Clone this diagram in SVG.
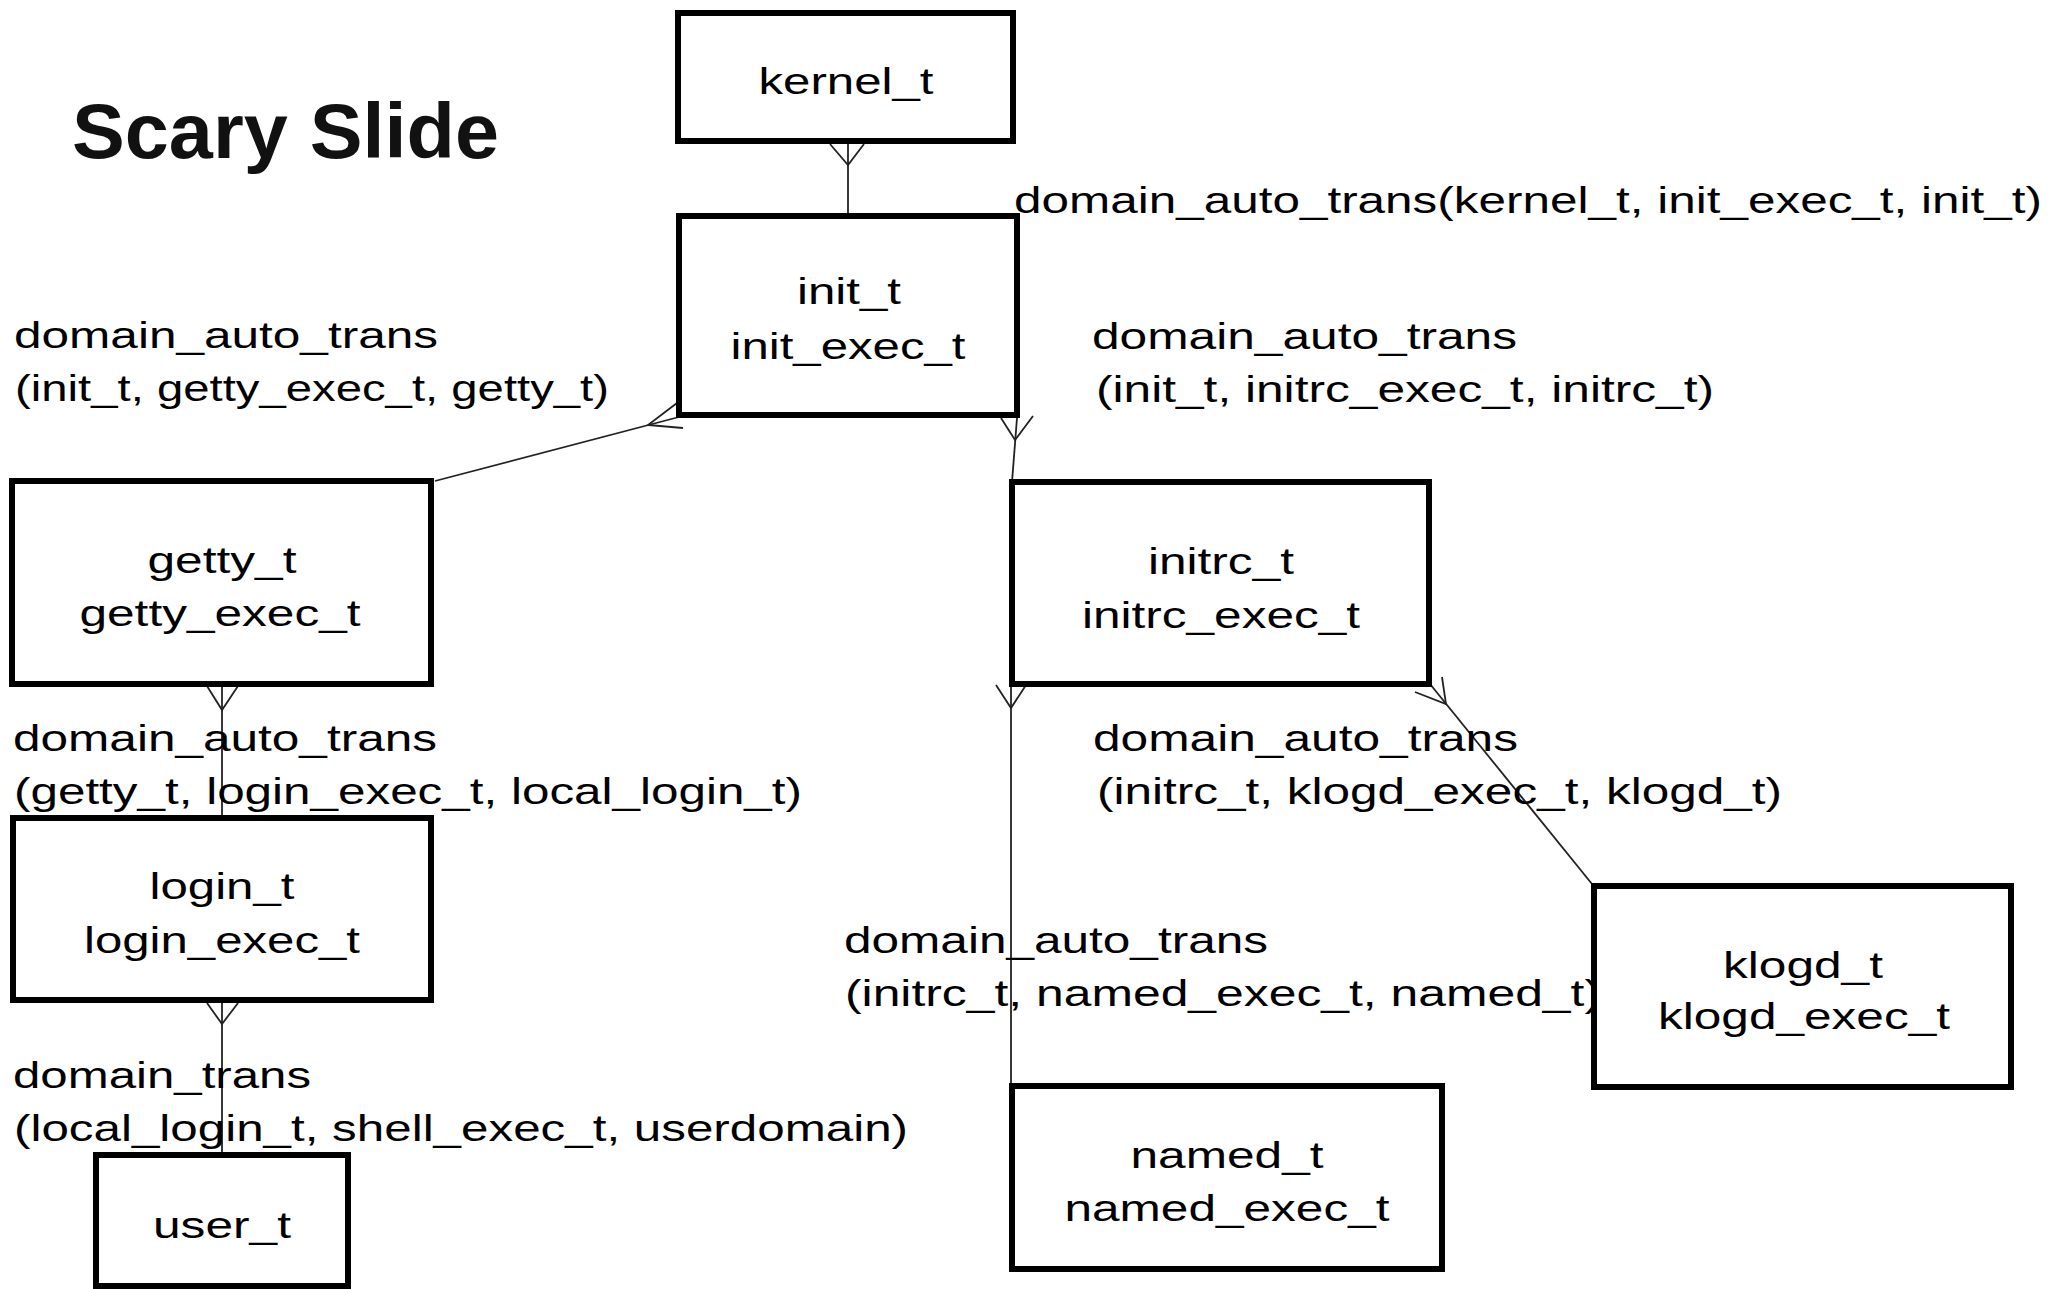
<svg xmlns="http://www.w3.org/2000/svg" width="2058" height="1289" viewBox="0 0 2058 1289">
<style>
.box{fill:#fff;stroke:#000;stroke-width:6}
.t{font-family:"Liberation Sans",Arial,sans-serif;font-size:36px;fill:#000}
.c{text-anchor:middle}
.title{font-family:"Liberation Sans",Arial,sans-serif;font-size:77px;font-weight:bold;fill:#111}
.ln{fill:none;stroke:#222;stroke-width:1.8}
</style>
<rect width="2058" height="1289" fill="#fff"/>
<text class="title" x="72" y="158" textLength="427" lengthAdjust="spacingAndGlyphs">Scary Slide</text>
<g id="connectors">
<line class="ln" x1="848" y1="144" x2="848" y2="213"/>
<polyline class="ln" points="830,144 848,165 864,144"/>
<line class="ln" x1="679" y1="417" x2="435" y2="481"/>
<polyline class="ln" points="677,403 648,425 683,428"/>
<line class="ln" x1="1017" y1="418" x2="1012" y2="482"/>
<polyline class="ln" points="1001,418 1015,440 1033,416"/>
<line class="ln" x1="222" y1="687" x2="222" y2="817"/>
<polyline class="ln" points="207,686 222,710 238,686"/>
<line class="ln" x1="222" y1="1003" x2="222" y2="1153"/>
<polyline class="ln" points="207,1003 222,1024 238,1003"/>
<line class="ln" x1="1011" y1="686" x2="1011" y2="1084"/>
<polyline class="ln" points="996,685 1011,708 1026,685"/>
<line class="ln" x1="1430" y1="684" x2="1592" y2="884"/>
<polyline class="ln" points="1415,692 1446,704 1442,677"/>
</g>
<g id="labels">
<text class="t" x="1014" y="213" textLength="1028" lengthAdjust="spacingAndGlyphs">domain_auto_trans(kernel_t, init_exec_t, init_t)</text>
<text class="t" x="14" y="348" textLength="424" lengthAdjust="spacingAndGlyphs">domain_auto_trans</text>
<text class="t" x="15" y="401" textLength="594" lengthAdjust="spacingAndGlyphs">(init_t, getty_exec_t, getty_t)</text>
<text class="t" x="1092" y="349" textLength="425" lengthAdjust="spacingAndGlyphs">domain_auto_trans</text>
<text class="t" x="1096" y="402" textLength="618" lengthAdjust="spacingAndGlyphs">(init_t, initrc_exec_t, initrc_t)</text>
<text class="t" x="13" y="751" textLength="424" lengthAdjust="spacingAndGlyphs">domain_auto_trans</text>
<text class="t" x="14" y="804" textLength="788" lengthAdjust="spacingAndGlyphs">(getty_t, login_exec_t, local_login_t)</text>
<text class="t" x="13" y="1088" textLength="298" lengthAdjust="spacingAndGlyphs">domain_trans</text>
<text class="t" x="14" y="1141" textLength="894" lengthAdjust="spacingAndGlyphs">(local_login_t, shell_exec_t, userdomain)</text>
<text class="t" x="1093" y="751" textLength="425" lengthAdjust="spacingAndGlyphs">domain_auto_trans</text>
<text class="t" x="1097" y="804" textLength="685" lengthAdjust="spacingAndGlyphs">(initrc_t, klogd_exec_t, klogd_t)</text>
<text class="t" x="844" y="953" textLength="424" lengthAdjust="spacingAndGlyphs">domain_auto_trans</text>
<text class="t" x="845" y="1006" textLength="756" lengthAdjust="spacingAndGlyphs">(initrc_t, named_exec_t, named_t)</text>
</g>
<g id="kernel_t">
<rect class="box" x="678" y="13" width="335" height="128"/>
<text class="t c" x="846" y="94" textLength="175" lengthAdjust="spacingAndGlyphs">kernel_t</text>
</g>
<g id="init_t">
<rect class="box" x="679" y="216" width="338" height="199"/>
<text class="t c" x="849" y="304" textLength="104" lengthAdjust="spacingAndGlyphs">init_t</text>
<text class="t c" x="848" y="359" textLength="235" lengthAdjust="spacingAndGlyphs">init_exec_t</text>
</g>
<g id="getty_t">
<rect class="box" x="12" y="481" width="419" height="203"/>
<text class="t c" x="222" y="573" textLength="149" lengthAdjust="spacingAndGlyphs">getty_t</text>
<text class="t c" x="220" y="626" textLength="281" lengthAdjust="spacingAndGlyphs">getty_exec_t</text>
</g>
<g id="initrc_t">
<rect class="box" x="1012" y="482" width="417" height="202"/>
<text class="t c" x="1221" y="574" textLength="146" lengthAdjust="spacingAndGlyphs">initrc_t</text>
<text class="t c" x="1221" y="628" textLength="278" lengthAdjust="spacingAndGlyphs">initrc_exec_t</text>
</g>
<g id="login_t">
<rect class="box" x="13" y="818" width="418" height="182"/>
<text class="t c" x="222" y="899" textLength="145" lengthAdjust="spacingAndGlyphs">login_t</text>
<text class="t c" x="222" y="953" textLength="276" lengthAdjust="spacingAndGlyphs">login_exec_t</text>
</g>
<g id="user_t">
<rect class="box" x="96" y="1155" width="252" height="131"/>
<text class="t c" x="222" y="1238" textLength="138" lengthAdjust="spacingAndGlyphs">user_t</text>
</g>
<g id="klogd_t">
<rect class="box" x="1594" y="886" width="417" height="201"/>
<text class="t c" x="1803" y="978" textLength="160" lengthAdjust="spacingAndGlyphs">klogd_t</text>
<text class="t c" x="1804" y="1029" textLength="292" lengthAdjust="spacingAndGlyphs">klogd_exec_t</text>
</g>
<g id="named_t">
<rect class="box" x="1012" y="1086" width="430" height="183"/>
<text class="t c" x="1227" y="1168" textLength="193" lengthAdjust="spacingAndGlyphs">named_t</text>
<text class="t c" x="1227" y="1221" textLength="325" lengthAdjust="spacingAndGlyphs">named_exec_t</text>
</g>
</svg>
